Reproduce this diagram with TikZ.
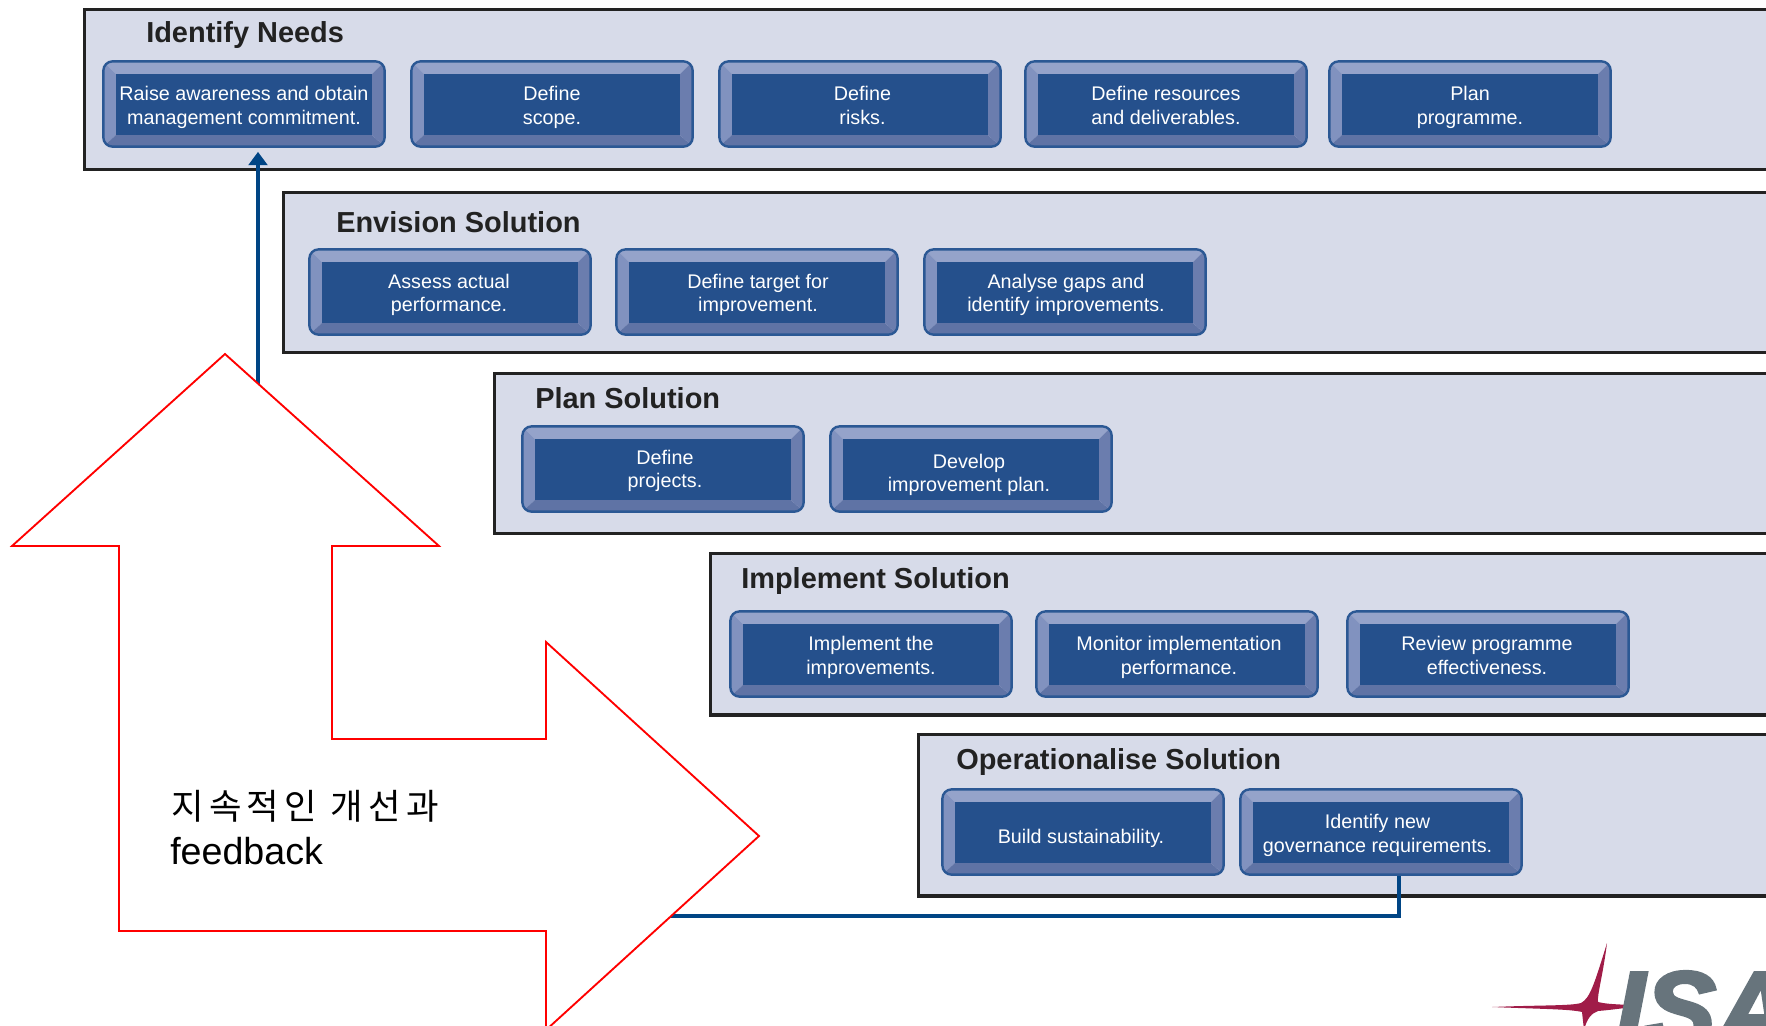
\documentclass[tikz,border=0pt]{standalone}
\usepackage{fontspec}
\setmainfont{Liberation Sans}
\newfontfamily\krfont{Noto Sans CJK KR}[LetterSpace=15]
\newfontfamily\logofont{Liberation Sans}[FakeBold=3]
\usetikzlibrary{calc,arrows.meta}
\definecolor{bandfill}{HTML}{D7DBE9}
\definecolor{bandline}{HTML}{222222}
\definecolor{btnline}{HTML}{2B5894}
\definecolor{btncore}{HTML}{25508C}
\definecolor{bevtop}{HTML}{95A3CA}
\definecolor{bevleft}{HTML}{8192BF}
\definecolor{bevbot}{HTML}{5F73A5}
\definecolor{bevright}{HTML}{6B7DAE}
\definecolor{flowblue}{HTML}{004585}
\definecolor{star}{HTML}{A01C48}
\definecolor{isagrey}{HTML}{67747C}
\tikzset{
  band/.style={draw=bandline,fill=bandfill,line width=2.6pt,anchor=north west,inner sep=0pt},
  bandtitle/.style={anchor=base west,inner sep=0pt,text=bandline,font=\fontsize{21.7}{24}\selectfont\bfseries},
  btntext/.style={inner sep=0pt,align=center,text=white,font=\fontsize{14.8}{17.8}\selectfont,
    execute at begin node={\rule{0pt}{13.5pt}},
    execute at end node={\rule[-5.3pt]{0pt}{5.3pt}}},
  btn/.style={rounded corners=7pt,draw=btnline,line width=1.8pt,minimum width=211pt,minimum height=64pt,
    inner sep=0pt,
    path picture={
      \begin{scope}[sharp corners]
      \coordinate (nw) at (path picture bounding box.north west);
      \coordinate (ne) at (path picture bounding box.north east);
      \coordinate (sw) at (path picture bounding box.south west);
      \coordinate (se) at (path picture bounding box.south east);
      \coordinate (inw) at ($(nw)+(13,13)$);
      \coordinate (ine) at ($(ne)+(-13,13)$);
      \coordinate (isw) at ($(sw)+(13,-12)$);
      \coordinate (ise) at ($(se)+(-13,-12)$);
      \fill[bevtop] (nw)--(ne)--(ine)--(inw)--cycle;
      \fill[bevleft] (nw)--(inw)--(isw)--(sw)--cycle;
      \fill[bevbot] (sw)--(isw)--(ise)--(se)--cycle;
      \fill[bevright] (ne)--(ine)--(ise)--(se)--cycle;
      \fill[btncore] (inw)--(ine)--(ise)--(isw)--cycle;
      \end{scope}
    }},
  flow/.style={draw=flowblue,line width=2.6pt},
  bigarrow/.style={draw=red,fill=white,line width=1.4pt,line join=miter},
}
\begin{document}
\begin{tikzpicture}[x=.75pt,y=-.75pt]
\useasboundingbox (0,0) rectangle (1766,1025);
\clip (0,0) rectangle (1766,1025);
% bands
\node[band,minimum width=1325pt,minimum height=120pt] (bandA) at (83,8) {};
\node[band,minimum width=1190pt,minimum height=120pt] (bandB) at (282,191) {};
\node[band,minimum width=1050pt,minimum height=120pt] (bandC) at (493,372) {};
\node[band,minimum width=900pt,minimum height=121pt] (bandD) at (709,552) {};
\node[band,minimum width=650pt,minimum height=121pt] (bandE) at (917,733) {};
% titles
\node[bandtitle] (tA) at (146,42) {Identify Needs};
\node[bandtitle] (tB) at (336,232) {Envision Solution};
\node[bandtitle] (tC) at (535,408) {Plan Solution};
\node[bandtitle] (tD) at (741,588) {Implement Solution};
\node[bandtitle] (tE) at (956,769) {Operationalise Solution};
% buttons
\node[btn] (a1) at (244,104) {};
\node[btntext] (a1t) at ($(a1)+(0,5)$) {Raise awareness and obtain\\management commitment.};
\node[btn] (a2) at (552,104) {};
\node[btntext] (a2t) at ($(a2)+(0,5)$) {Define\\scope.};
\node[btn] (a3) at (860,104) {};
\node[btntext] (a3t) at ($(a3)+(2.5,5)$) {Define\\risks.};
\node[btn] (a4) at (1166,104) {};
\node[btntext] (a4t) at ($(a4)+(0,5)$) {Define resources\\and deliverables.};
\node[btn] (a5) at (1470,104) {};
\node[btntext] (a5t) at ($(a5)+(0,5)$) {Plan\\programme.};
\node[btn] (b1) at (450,292) {};
\node[btntext] (b1t) at ($(b1)+(-1,4.5)$) {Assess actual\\performance.};
\node[btn] (b2) at (757,292) {};
\node[btntext] (b2t) at ($(b2)+(1,4.5)$) {Define target for\\improvement.};
\node[btn] (b3) at (1065,292) {};
\node[btntext] (b3t) at ($(b3)+(1,4.5)$) {Analyse gaps and\\identify improvements.};
\node[btn] (c1) at (663,469) {};
\node[btntext] (c1t) at ($(c1)+(2,3.4)$) {Define\\projects.};
\node[btn] (c2) at (971,469) {};
\node[btntext] (c2t) at ($(c2)+(-2,7.3)$) {Develop\\improvement plan.};
\node[btn] (d1) at (871,654) {};
\node[btntext] (d1t) at ($(d1)+(0,5)$) {Implement the\\improvements.};
\node[btn] (d2) at (1177,654) {};
\node[btntext] (d2t) at ($(d2)+(2,5)$) {Monitor implementation\\performance.};
\node[btn] (d3) at (1488,654) {};
\node[btntext] (d3t) at ($(d3)+(-1,5)$) {Review programme\\effectiveness.};
\node[btn] (e1) at (1083,832) {};
\node[btntext] (e1t) at ($(e1)+(-2,6)$) {Build sustainability.};
\node[btn] (e2) at (1381,832) {};
\node[btntext] (e2t) at ($(e2)+(-3.4,5)$) {Identify new\\governance requirements.};
% connectors
\coordinate (upX) at (258,400);
\coordinate (backEnd) at (660,916);
\coordinate (downX) at (1399,876);
\draw[flow] (downX) -- (1399,916) -- (backEnd);
\draw[flow,-{Triangle[length=10pt,width=14pt]},shorten >=3pt] (upX) -- (a1.south -| upX);
% red feedback arrow
\draw[bigarrow] (225,354) -- (439,546) -- (332,546) -- (332,739) -- (546,739) -- (546,642)
  -- (759,836) -- (546,1030) -- (546,931) -- (119,931) -- (119,546) -- (12,546) -- cycle;
\node[anchor=base west,inner sep=0pt,font=\fontsize{26.5}{30}\krfont] (fb1) at (171,819) {지속적인 개선과};
\node[anchor=base west,inner sep=0pt,font=\fontsize{28.2}{30}\selectfont] (fb2) at (170,864) {feedback};
% logo
\fill[star] (1492,1007) .. controls (1540,1005) and (1570,1006) .. (1581,1003)
  .. controls (1590,998) and (1594,985) .. (1607,943)
  .. controls (1603,975) and (1597,995) .. (1598,1002)
  .. controls (1610,1005) and (1625,1004) .. (1640,1006)
  .. controls (1625,1008) and (1610,1010) .. (1598,1011)
  .. controls (1592,1013) and (1587,1018) .. (1584,1030)
  -- (1582,1012)
  .. controls (1570,1009) and (1540,1009) .. (1492,1007) -- cycle;
\node[anchor=base west,inner sep=0pt,text=isagrey,font=\fontsize{80}{90}\logofont\bfseries\itshape] (logo) at (1615,1046) {ISA};
\end{tikzpicture}
\end{document}
